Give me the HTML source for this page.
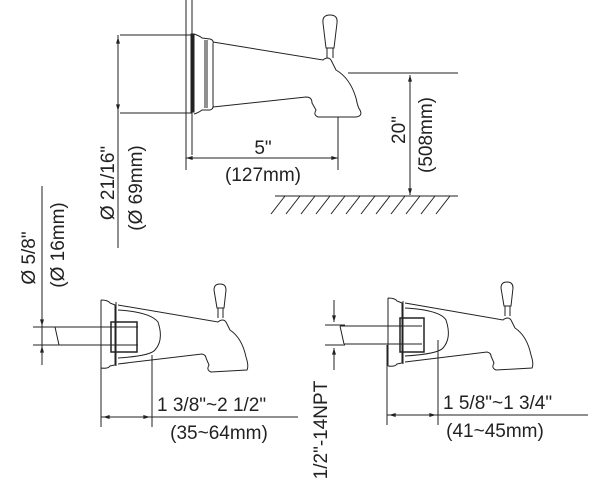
<!DOCTYPE html>
<html><head><style>
html,body{margin:0;padding:0;background:#fff;}
svg{display:block;}
text{font-family:"Liberation Sans",sans-serif;font-size:19px;fill:#222;}
</style></head><body>
<svg width="600" height="500" viewBox="0 0 600 500" xmlns="http://www.w3.org/2000/svg">
<defs>
<marker id="a" viewBox="0 0 10 6" refX="10" refY="3" markerWidth="8" markerHeight="4" orient="auto-start-reverse"><path d="M0,0L10,3L0,6z" fill="#222"/></marker>
</defs>
<g stroke="#222" stroke-width="1" fill="none">
<!-- TOP -->
<line x1="186" y1="0" x2="186" y2="170"/>
<line x1="192" y1="0" x2="192" y2="155"/>
<line x1="120" y1="35" x2="192" y2="35"/>
<line x1="120" y1="113" x2="192" y2="113"/>
<line x1="118" y1="35" x2="118" y2="248"/>
<line x1="118" y1="37" x2="118" y2="111" marker-start="url(#a)" marker-end="url(#a)"/>
<rect x="191" y="34" width="3" height="78" fill="#222"/>
<path d="M194,34 Q200,36 202,38 L210,39 Q214,40 213,44 L213,104 Q214,109 210,110 L202,110 Q198,113 194,114"/>
<line x1="205" y1="40" x2="205" y2="108"/>
<line x1="207" y1="40" x2="207" y2="108"/>
<path d="M213,42 L323,60 Q328,56 331,60 L336,70 Q350,78 356,98 Q358,108 360,110 Q363,116 356,117 L318,117 Q313,115 316,110 L312,103 Q312,97 306,97 L213,107"/>
<path d="M327,58 L327,48 M333,58 L333,48 M326,48 L323,23 Q322,15 330,15 Q338,15 337,23 L334,48 Z"/>
<line x1="186" y1="158" x2="338" y2="158" marker-start="url(#a)" marker-end="url(#a)"/>
<line x1="338" y1="117" x2="338" y2="170"/>
<line x1="348" y1="73" x2="458" y2="73"/>
<line x1="410" y1="75" x2="410" y2="195" marker-start="url(#a)" marker-end="url(#a)"/>
<line x1="275" y1="196" x2="458" y2="196"/>
<path d="M285,196 l-14,18 M300,196 l-14,18 M315,196 l-14,18 M330,196 l-14,18 M345,196 l-14,18 M360,196 l-14,18 M375,196 l-14,18 M390,196 l-14,18 M405,196 l-14,18 M420,196 l-14,18 M435,196 l-14,18 M450,196 l-14,18"/>
<!-- BOTTOM LEFT -->
<line x1="42" y1="186" x2="42" y2="365"/>
<line x1="42" y1="310" x2="42" y2="326" marker-end="url(#a)"/>
<line x1="42" y1="362" x2="42" y2="346" marker-end="url(#a)"/>
<line x1="33" y1="327" x2="100" y2="327"/>
<line x1="33" y1="345" x2="100" y2="345"/>
<line x1="55" y1="327" x2="138" y2="327"/>
<line x1="59" y1="345" x2="138" y2="345"/>
<path d="M55,327 L59,345"/>
<path d="M101,300 L101,368 M101,300 Q108,300 110,303 L115,305 L115,365 L110,366 Q108,369 101,368"/>
<line x1="116" y1="302" x2="116" y2="366"/>
<rect x="111" y="322" width="26" height="30" stroke-width="1.5"/>
<path d="M118,305 L218,322 Q223,318 226,322 L230,330 Q242,338 246,357 Q249,366 247,370 L211,372 Q206,370 209,365 L206,358 Q206,355 202,354 L118,364"/>
<path d="M118,310 Q150,312 158,322 Q164,340 155,350 Q150,356 118,358"/>
<path d="M218,318 L218,308 M223,318 L223,308 M217,308 L214,290 Q214,284 220,284 Q226,284 226,290 L224,308 Z"/>
<line x1="101" y1="365" x2="101" y2="427"/>
<line x1="152" y1="355" x2="152" y2="427"/>
<line x1="101" y1="417" x2="298" y2="417"/>
<line x1="103" y1="417" x2="150" y2="417" marker-start="url(#a)" marker-end="url(#a)"/>
<!-- BOTTOM RIGHT -->
<line x1="334" y1="300" x2="334" y2="322" marker-end="url(#a)"/>
<line x1="334" y1="370" x2="334" y2="348" marker-end="url(#a)"/>
<line x1="325" y1="325" x2="345" y2="325"/>
<line x1="325" y1="345" x2="345" y2="345"/>
<line x1="340" y1="326" x2="422" y2="326"/>
<line x1="344" y1="344" x2="422" y2="344"/>
<path d="M340,326 L344,344"/>
<path d="M388,298 L388,366 M388,298 Q395,298 397,301 L402,303 L402,363 L397,364 Q395,367 388,366"/>
<line x1="403" y1="301" x2="403" y2="364"/>
<rect x="400" y="318" width="24" height="34" stroke-width="1.5"/>
<path d="M405,303 L503,320 Q508,316 511,320 L515,328 Q527,336 531,355 Q534,364 532,368 L496,370 Q491,368 494,363 L491,356 Q491,353 487,352 L405,362"/>
<path d="M405,308 Q440,310 446,320 Q452,338 443,348 Q438,354 405,356"/>
<path d="M505,316 L505,306 M510,316 L510,306 M504,306 L501,288 Q501,282 507,282 Q513,282 513,288 L511,306 Z"/>
<line x1="387" y1="345" x2="387" y2="425"/>
<line x1="438" y1="340" x2="438" y2="425"/>
<line x1="387" y1="415" x2="588" y2="415"/>
<line x1="389" y1="415" x2="436" y2="415" marker-start="url(#a)" marker-end="url(#a)"/>
</g>
<g>
<text x="263" y="154" text-anchor="middle">5"</text>
<text x="263" y="181" text-anchor="middle">(127mm)</text>
<text transform="translate(405,130) rotate(-90)" text-anchor="middle">20"</text>
<text transform="translate(432,135) rotate(-90)" text-anchor="middle">(508mm)</text>
<text transform="translate(114,183) rotate(-90)" text-anchor="middle">Ø 21/16"</text>
<text transform="translate(142,188) rotate(-90)" text-anchor="middle">(Ø 69mm)</text>
<text transform="translate(35,258) rotate(-90)" text-anchor="middle">Ø 5/8"</text>
<text transform="translate(64,245) rotate(-90)" text-anchor="middle">(Ø 16mm)</text>
<text x="157" y="411">1 3/8"~2 1/2"</text>
<text x="219" y="439" text-anchor="middle">(35~64mm)</text>
<text x="443" y="409">1 5/8"~1 3/4"</text>
<text x="495" y="437" text-anchor="middle">(41~45mm)</text>
<text transform="translate(327,430) rotate(-90)" text-anchor="middle">1/2"-14NPT</text>
</g>
</svg>
</body></html>
